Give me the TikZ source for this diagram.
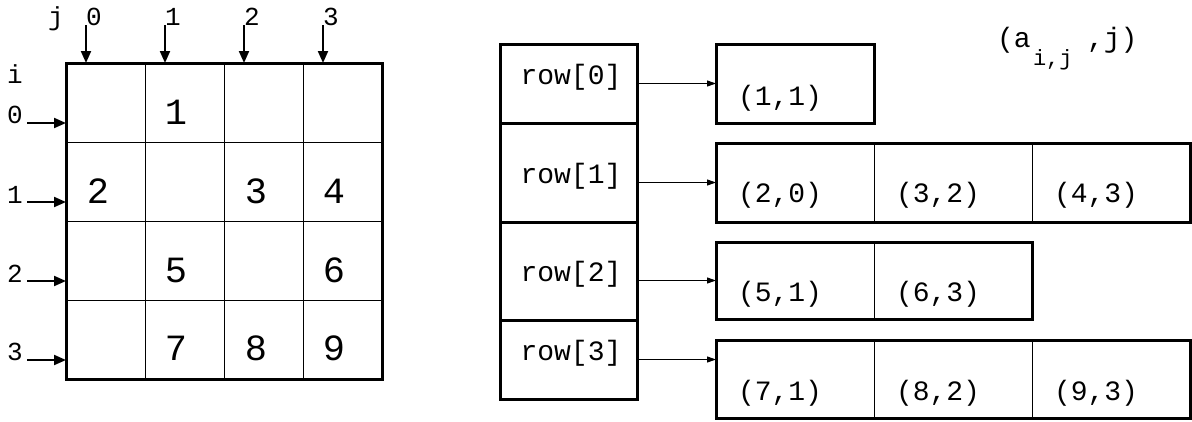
\documentclass[tikz,border=0pt]{standalone}
\usepackage{fontspec}
\setmonofont{Liberation Mono}
\usetikzlibrary{arrows.meta}
\begin{document}
\begin{tikzpicture}[x=1pt,y=-1pt,
  every node/.style={font=\ttfamily, inner sep=0pt, outer sep=0pt},
  cellbox/.style={draw, line width=1pt, minimum width=79pt, minimum height=79pt},
  elemcell/.style={draw, line width=1pt, minimum width=158pt},
  rowbox/.style={draw, line width=3pt, minimum width=137pt},
  small/.style={anchor=base, font=\ttfamily\fontsize{26}{30}\selectfont},
  big/.style={anchor=base, font=\ttfamily\fontsize{37}{42}\selectfont},
  mid/.style={anchor=base, font=\ttfamily\fontsize{28}{32}\selectfont},
  subs/.style={anchor=base west, font=\ttfamily\fontsize{22}{26}\selectfont},
  gridarrow/.style={line width=2pt, -{Triangle[length=12pt,width=10pt]}},
  ptr/.style={line width=1pt, -{Triangle[length=9pt,width=6pt]}},
  outline/.style={line width=3pt}
]
\useasboundingbox (0,0) rectangle (1192,421);

% ---- grid cells ----
\foreach \r in {0,1,2,3}{
  \foreach \c in {0,1,2,3}{
    \node[cellbox] (c\r\c) at ({105.5+79*\c},{102.5+79*\r}) {};
  }
}
\draw[outline] (c00.north west) rectangle (c33.south east);

% ---- grid values ----
\node[big] (v1) at (176,124) {1};
\node[big] (v2) at (98,203) {2};
\node[big] (v3) at (256,203) {3};
\node[big] (v4) at (334,203) {4};
\node[big] (v5) at (176,282) {5};
\node[big] (v6) at (334,282) {6};
\node[big] (v7) at (176,360) {7};
\node[big] (v8) at (256,360) {8};
\node[big] (v9) at (334,360) {9};

% ---- index labels ----
\node[small] (lj) at (56,25) {j};
\node[small] (lj0) at (94,25) {0};
\node[small] (lj1) at (173,25) {1};
\node[small] (lj2) at (252,25) {2};
\node[small] (lj3) at (331,25) {3};
\node[small] (li) at (15,83) {i};
\node[small] (li0) at (15,123) {0};
\node[small] (li1) at (15,203) {1};
\node[small] (li2) at (15,282) {2};
\node[small] (li3) at (15,360) {3};

% ---- index arrows ----
\foreach \k in {0,1,2,3}{
  \coordinate (tj\k) at ({86+79*\k},25);
  \coordinate (hj\k) at ({86+79*\k},63);
  \draw[gridarrow] (tj\k) -- (hj\k);
  \coordinate (ti\k) at (27,{123+79*\k});
  \coordinate (hi\k) at (66,{123+79*\k});
  \draw[gridarrow] (ti\k) -- (hi\k);
}

% ---- row pointer boxes ----
\node[rowbox, minimum height=79pt] (row0) at (568.5,83.5) {};
\node[rowbox, minimum height=99pt] (row1) at (568.5,172.5) {};
\node[rowbox, minimum height=98pt] (row2) at (568.5,271) {};
\node[rowbox, minimum height=79pt] (row3) at (568.5,359.5) {};
\node[mid] (rt0) at (571,84) {row[0]};
\node[mid] (rt1) at (571,183) {row[1]};
\node[mid] (rt2) at (571,281) {row[2]};
\node[mid] (rt3) at (571,360) {row[3]};

% ---- element boxes ----
\node[elemcell, minimum height=79pt] (e00) at (795,83.5) {};
\draw[outline] (e00.north west) rectangle (e00.south east);

\node[elemcell, minimum height=79pt] (e10) at (795,182.5) {};
\node[elemcell, minimum height=79pt] (e11) at (953,182.5) {};
\node[elemcell, minimum height=79pt] (e12) at (1111,182.5) {};
\draw[outline] (e10.north west) rectangle (e12.south east);

\node[elemcell, minimum height=77pt] (e20) at (795,280.5) {};
\node[elemcell, minimum height=77pt] (e21) at (953,280.5) {};
\draw[outline] (e20.north west) rectangle (e21.south east);

\node[elemcell, minimum height=78pt] (e30) at (795,379) {};
\node[elemcell, minimum height=78pt] (e31) at (953,379) {};
\node[elemcell, minimum height=78pt] (e32) at (1111,379) {};
\draw[outline] (e30.north west) rectangle (e32.south east);

% ---- element texts ----
\node[mid] (t00) at (780,105) {(1,1)};
\node[mid] (t10) at (780,202) {(2,0)};
\node[mid] (t11) at (938,202) {(3,2)};
\node[mid] (t12) at (1096,202) {(4,3)};
\node[mid] (t20) at (780,301) {(5,1)};
\node[mid] (t21) at (938,301) {(6,3)};
\node[mid] (t30) at (780,400) {(7,1)};
\node[mid] (t31) at (938,400) {(8,2)};
\node[mid] (t32) at (1096,400) {(9,3)};

% ---- pointers ----
\draw[ptr] (row0.east |- e00.west) -- (e00.west);
\draw[ptr] (row1.east |- e10.west) -- (e10.west);
\draw[ptr] (row2.east |- e20.west) -- (e20.west);
\draw[ptr] (row3.east) -- (row3.east -| e30.west);

% ---- legend ----
\node[mid, anchor=base west] (lega) at (997,47) {(a};
\node[subs] (legs) at (1033,65) {i,j};
\node[mid, anchor=base west] (legb) at (1087,47) {,j)};
\end{tikzpicture}
\end{document}
